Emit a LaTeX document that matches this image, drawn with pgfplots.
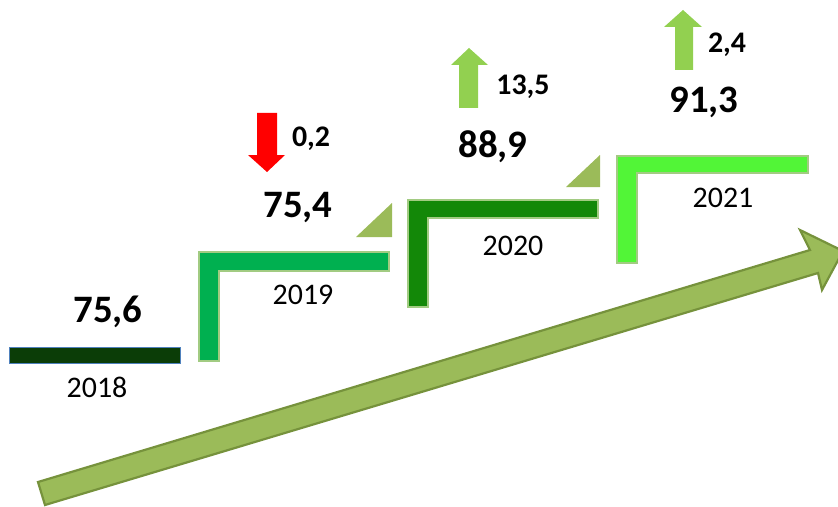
\documentclass[border=0pt]{standalone}
\usepackage{fontspec}
\setmainfont{Carlito}
\usepackage{pgfplots}
\usepackage{pgfplotstable}
\pgfplotsset{compat=1.18}

\definecolor{bar18}{HTML}{0B3D07}
\definecolor{edge18}{HTML}{4F81BD}
\definecolor{bar19}{HTML}{00B050}
\definecolor{bar20}{HTML}{138808}
\definecolor{bar21}{HTML}{52F537}
\definecolor{stepedge}{HTML}{A2CB82}
\definecolor{olive}{HTML}{9BBB59}
\definecolor{oliveedge}{HTML}{76923C}
\definecolor{uparrow}{HTML}{92D050}

% label positions are in pixels of the 838x507 picture, y counted from the top
\pgfplotstableread{
year vx vy  value yx  yy
2018 108 322 75.6 97  397
2019 298 217 75.4 303 304
2020 493 157 88.9 513 255
2021 704 112 91.3 723 207
}\yeardata

% change against the year before (the sign is shown by the arrow)
\pgfplotstableread{
cx  cy  change
311 146 0.2
523 94  13.5
727 53  2.4
}\changedata

\begin{document}
\begin{tikzpicture}
\useasboundingbox (0,0) rectangle (838bp,507bp);
\begin{axis}[
    at={(0,0)}, anchor=south west,
    width=838bp, height=507bp, scale only axis,
    xmin=0, xmax=838, ymin=0, ymax=507, y dir=reverse,
    hide axis, clip=true,
    /pgf/number format/assume math mode=true,
  ]
  % big rising arrow
  \addplot[fill=olive, draw=oliveedge, line width=2.2pt, line join=miter]
    coordinates {(38,482) (810,250) (800,230) (843,251) (822,290) (818,273) (45,505)} -- cycle;

  % 2018 bar
  \addplot[fill=bar18, draw=edge18, line width=0.8pt]
    coordinates {(9,347) (180,347) (180,363) (9,363)} -- cycle;
  % steps
  \addplot[fill=bar19, draw=stepedge, line width=1.8pt]
    coordinates {(199,252) (389,252) (389,271) (219,271) (219,361) (199,361)} -- cycle;
  \addplot[fill=bar20, draw=stepedge, line width=1.8pt]
    coordinates {(408,200) (598,200) (598,218) (428,218) (428,307) (408,307)} -- cycle;
  \addplot[fill=bar21, draw=stepedge, line width=1.8pt]
    coordinates {(617,156) (808,156) (808,173) (637,173) (637,263) (617,263)} -- cycle;

  % small triangles
  \addplot[fill=olive, draw=none] coordinates {(356,237) (392,203) (392,237)} -- cycle;
  \addplot[fill=olive, draw=none] coordinates {(566,187) (600,155) (600,187)} -- cycle;

  % change arrows
  \addplot[fill=red, draw=none]
    coordinates {(257,113) (277,113) (277,155) (285,155) (267,172) (248,155) (257,155)} -- cycle;
  \addplot[fill=uparrow, draw=none]
    coordinates {(459,108) (478,108) (478,65) (488,65) (469,48) (451,65) (459,65)} -- cycle;
  \addplot[fill=uparrow, draw=none]
    coordinates {(675,70) (693,70) (693,27) (702,27) (683,10) (664,27) (675,27)} -- cycle;

  % values
  \addplot[draw=none, mark=none, nodes near coords, point meta=explicit,
    nodes near coords={\pgfmathprintnumber[fixed,fixed zerofill,precision=1,use comma]{\pgfplotspointmeta}},
    every node near coord/.append style={anchor=base, inner sep=0pt,
      font=\fontsize{39}{39}\selectfont\bfseries}]
    table[x=vx, y=vy, meta=value] {\yeardata};
  % years
  \addplot[draw=none, mark=none, nodes near coords, point meta=explicit symbolic,
    every node near coord/.append style={anchor=base, inner sep=0pt,
      font=\fontsize{30}{30}\selectfont}]
    table[x=yx, y=yy, meta=year] {\yeardata};
  % changes
  \addplot[draw=none, mark=none, nodes near coords, point meta=explicit,
    nodes near coords={\pgfmathprintnumber[fixed,fixed zerofill,precision=1,use comma]{\pgfplotspointmeta}},
    every node near coord/.append style={anchor=base, inner sep=0pt,
      font=\fontsize{30}{30}\selectfont\bfseries}]
    table[x=cx, y=cy, meta=change] {\changedata};
\end{axis}
\end{tikzpicture}
\end{document}
